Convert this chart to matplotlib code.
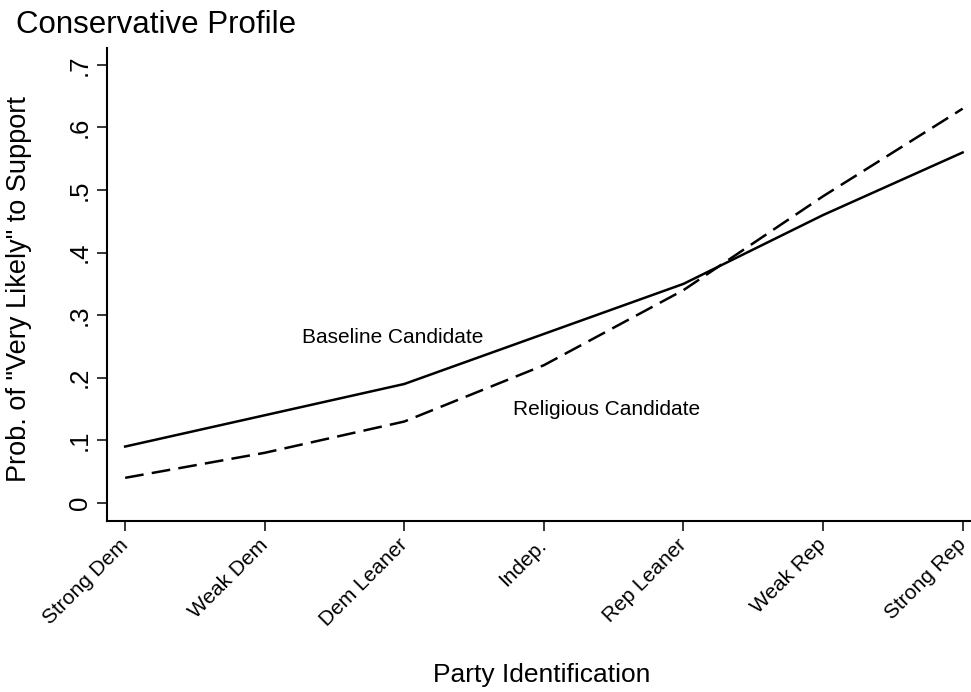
import matplotlib
matplotlib.use("Agg")
import matplotlib.pyplot as plt

categories = ["Strong Dem", "Weak Dem", "Dem Leaner", "Indep.", "Rep Leaner", "Weak Rep", "Strong Rep"]
baseline = [0.09, 0.14, 0.19, 0.27, 0.35, 0.46, 0.56]
religious = [0.04, 0.08, 0.13, 0.22, 0.34, 0.49, 0.63]
yticks = [0, 0.1, 0.2, 0.3, 0.4, 0.5, 0.6, 0.7]
ytick_labels = ["0", ".1", ".2", ".3", ".4", ".5", ".6", ".7"]

plt.rcParams['font.family'] = ['Liberation Sans', 'DejaVu Sans']

W, H = 971, 692
fig = plt.figure(figsize=(W / 100, H / 100), dpi=100)
ax = fig.add_axes([107 / W, 1 - 521 / H, (W - 107) / W, (521 - 48) / H])

x = list(range(1, len(categories) + 1))
ax.plot(x, baseline, color='black', lw=1.8, solid_joinstyle='round')
ax.plot(x, religious, color='black', lw=1.8, ls=(0, (7.5, 3.3)))

ax.set_xlim(0.87, 7.06)
ax.set_ylim(-0.029, 0.727)
ax.set_xticks(x)
ax.set_xticklabels(categories, rotation=45, ha='right', va='center', rotation_mode='anchor', fontsize=15)
ax.set_yticks(yticks)
ax.set_yticklabels(ytick_labels, rotation=90, va='center', fontsize=18.5)
ax.tick_params(axis='both', length=7, width=1.1, colors='black')
ax.tick_params(axis='y', pad=4)
ax.tick_params(axis='x', pad=8)
for s in ['top', 'right']:
    ax.spines[s].set_visible(False)
for s in ['left', 'bottom']:
    ax.spines[s].set_linewidth(1.5)

ax.text(2.267, 0.264, "Baseline Candidate", fontsize=15, ha='left', va='center')
ax.text(3.78, 0.149, "Religious Candidate", fontsize=15, ha='left', va='center')

fig.text(19 / W, 1 - 289 / H, 'Prob. of "Very Likely" to Support', fontsize=19.5,
         rotation=90, ha='center', va='center')
fig.text(542 / W, 1 - 682 / H, 'Party Identification', fontsize=19, ha='center', va='baseline')
fig.text(16 / W, 1 - 33 / H, "Conservative Profile", fontsize=22.5, ha='left', va='baseline')

fig.savefig("out.png", dpi=100)
